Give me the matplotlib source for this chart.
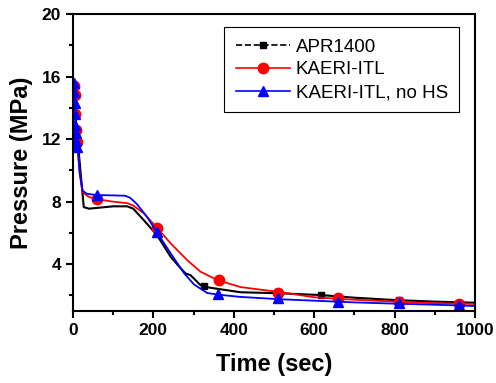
import matplotlib
matplotlib.use('Agg')
from matplotlib import pyplot as plt
from matplotlib.lines import Line2D
from matplotlib.ticker import MultipleLocator

plt.rcParams['font.family'] = ['Liberation Sans', 'DejaVu Sans']

# APR1400
apr_t = [0, 5, 10, 13, 20, 27, 40, 60, 100, 135, 150, 176, 209, 243, 268, 280, 292,
         300, 317, 334, 367, 417, 517, 617, 700, 800, 900, 1000]
apr_p = [15.5, 14.0, 12.2, 11.6, 9.6, 7.65, 7.55, 7.6, 7.7, 7.7, 7.55, 6.82, 5.86, 4.47,
         3.73, 3.4, 3.3, 3.1, 2.66, 2.52, 2.39, 2.2, 2.13, 2.02, 1.85, 1.7, 1.6, 1.53]
apr_mt = [326, 617, 810]
apr_mp = [2.6, 2.0, 1.68]

# KAERI-ITL
itl_t = [0, 3, 6, 9, 12, 17, 24, 40, 60, 100, 135, 150, 176, 209, 243, 284, 317,
         359, 417, 517, 600, 700, 800, 900, 1000]
itl_p = [15.5, 14.6, 13.4, 12.2, 11.4, 9.8, 8.6, 8.3, 8.15, 8.0, 7.9, 7.75, 7.26, 6.33,
         5.33, 4.26, 3.52, 2.98, 2.53, 2.2, 1.88, 1.72, 1.6, 1.5, 1.45]
itl_mt = [2, 4, 6, 8, 10, 59, 210, 363, 510, 660, 810, 960]
itl_mp = [15.4, 14.8, 13.6, 12.6, 11.8, 8.15, 6.33, 2.98, 2.15, 1.83, 1.6, 1.45]

# KAERI-ITL, no HS
nohs_t = [0, 3, 6, 9, 12, 17, 24, 35, 60, 100, 130, 142, 159, 184, 209, 243, 276, 301,
          334, 360, 417, 517, 600, 700, 800, 900, 1000]
nohs_p = [15.6, 14.8, 13.8, 12.6, 11.4, 9.8, 8.7, 8.5, 8.42, 8.4, 8.38, 8.25, 7.85, 7.03,
          6.03, 4.69, 3.43, 2.7, 2.15, 2.05, 1.9, 1.75, 1.66, 1.55, 1.47, 1.4, 1.32]
nohs_mt = [2, 3, 4, 5, 6, 7, 8, 9, 60, 209, 360, 510, 660, 810, 960]
nohs_mp = [15.6, 15.0, 14.3, 13.6, 12.9, 12.4, 11.9, 11.5, 8.42, 6.03, 2.09, 1.83,
           1.6, 1.5, 1.38]

fig = plt.figure(figsize=(4.96, 3.83), dpi=100)
ax = fig.add_axes([0.147, 0.188, 0.811, 0.775])

ax.plot(apr_t, apr_p, color='black', lw=1.5)
ax.plot(apr_mt, apr_mp, 's', color='black', ms=4)
ax.plot(itl_t, itl_p, color='red', lw=1.3)
ax.plot(itl_mt, itl_mp, 'o', color='red', ms=7.5)
ax.plot(nohs_t, nohs_p, color='blue', lw=1.3)
ax.plot(nohs_mt, nohs_mp, '^', color='blue', ms=7.5)

ax.set_xlim(0, 1000)
ax.set_ylim(1, 20)
ax.xaxis.set_major_locator(MultipleLocator(200))
ax.xaxis.set_minor_locator(MultipleLocator(100))
ax.yaxis.set_minor_locator(MultipleLocator(2))
ax.set_yticks([4, 8, 12, 16, 20])
ax.tick_params(which='both', direction='out', width=1.5, labelsize=12.5)
ax.tick_params(which='major', length=5)
ax.tick_params(which='minor', length=3)
for lab in ax.get_xticklabels() + ax.get_yticklabels():
    lab.set_fontweight('bold')
for s in ax.spines.values():
    s.set_linewidth(1.5)

ax.set_xlabel('Time (sec)', fontsize=17, fontweight='bold')
ax.set_ylabel('Pressure (MPa)', fontsize=17, fontweight='bold')
ax.xaxis.set_label_coords(0.5, -0.14)
ax.yaxis.set_label_coords(-0.10, 0.5)

handles = [
    Line2D([], [], color='black', ls='--', marker='s', ms=5, lw=1.2),
    Line2D([], [], color='red', marker='o', ms=7.5, lw=1.2),
    Line2D([], [], color='blue', marker='^', ms=7.5, lw=1.2),
]
leg = ax.legend(handles, ['APR1400', 'KAERI-ITL', 'KAERI-ITL, no HS'],
                loc='upper right', bbox_to_anchor=(0.960, 0.956), borderaxespad=0,
                fontsize=13.5, fancybox=False, edgecolor='black', framealpha=1,
                handlelength=2.9, handletextpad=0.3, borderpad=0.6,
                labelspacing=0.3)
leg.get_frame().set_linewidth(0.8)

fig.savefig('out.png', dpi=100)
